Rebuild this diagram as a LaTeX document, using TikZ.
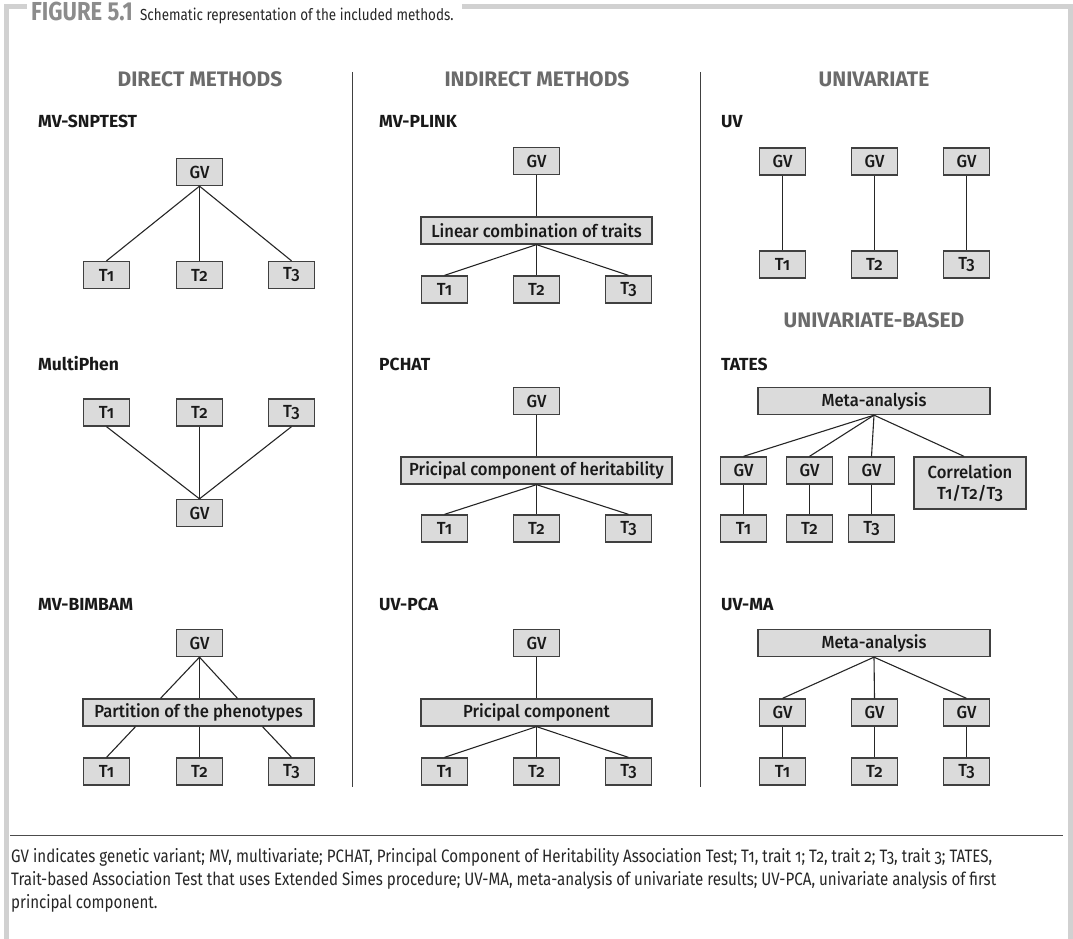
\documentclass[tikz,border=0pt]{standalone}
\usepackage{fontspec}
\setmainfont{Fira Sans}[Numbers=OldStyle]
\newfontfamily\boxfont{Fira Sans Medium}[Numbers=OldStyle,FakeStretch=0.95]
\newfontfamily\capfont{Fira Sans}[Numbers=OldStyle,FakeStretch=0.84]
\newfontfamily\figfont{Fira Sans}[FakeStretch=0.85]
\begin{document}
\begin{tikzpicture}[x=1pt,y=-1pt,
  bx/.style={draw=black!75, fill=black!14, line width=1.3pt, minimum width=46pt,
    minimum height=27pt, inner sep=0pt, text=black!90,
    font=\boxfont\fontsize{17.5}{21}\selectfont},
  ln/.style={draw=black!85, line width=1.1pt},
  hdr/.style={font=\bfseries\fontsize{21}{24}\selectfont, text=black!58, anchor=base, inner sep=0pt},
  lab/.style={font=\bfseries\fontsize{17.5}{20}\selectfont, text=black!90, anchor=base west, inner sep=0pt},
  framel/.style={draw=black!18, line width=5pt, line join=miter},
  divl/.style={draw=black!75, line width=1pt},
  capl/.style={anchor=base west, inner sep=0pt, font=\capfont\fontsize{18}{21}\selectfont, text=black!85},
]
\useasboundingbox (0,0) rectangle (1073,939);

% frame and title
\draw[framel] (6.5,939) -- (6.5,6.5) -- (27,6.5);
\node[anchor=base west, inner sep=0pt, font=\figfont\bfseries\fontsize{26}{28}\selectfont, text=black!45] (fig) at (31,21) {FIGURE 5.1};
\node[anchor=base west, inner sep=0pt, font=\capfont\fontsize{16}{20}\selectfont, text=black!85] (cap) at ([xshift=7pt]fig.base east) {Schematic representation of the included methods.};
\path (cap.east) ++(8,0) coordinate (c1);
\draw[framel] (c1 |- 0,6.5) -- (1070.5,6.5) -- (1070.5,939);

% dividers
\draw[divl] (352.5,72) -- (352.5,787);
\draw[divl] (700.5,72) -- (700.5,787);

% ===== Column 1 =====
\node[hdr] (h1) at (200,87) {DIRECT METHODS};
\node[lab] (l11) at (38,128) {MV-SNPTEST};
\node[bx] (agv) at (199.5,172) {GV};
\node[bx] (at1) at (106.5,275) {T1};
\node[bx] (at2) at (199.5,275) {T2};
\node[bx] (at3) at (291.5,275) {T3};
\draw[ln] (agv.south) -- (at1.north);
\draw[ln] (agv.south) -- (at2.north);
\draw[ln] (agv.south) -- (at3.north);

\node[lab] (l12) at (38,370) {MultiPhen};
\node[bx] (bt1) at (106.5,412.5) {T1};
\node[bx] (bt2) at (199.5,412.5) {T2};
\node[bx] (bt3) at (291.5,412.5) {T3};
\node[bx] (bgv) at (199.5,513) {GV};
\draw[ln] (bt1.south) -- (bgv.north);
\draw[ln] (bt2.south) -- (bgv.north);
\draw[ln] (bt3.south) -- (bgv.north);

\node[lab] (l13) at (38,610) {MV-BIMBAM};
\node[bx] (cgv) at (199.5,643) {GV};
\node[bx, minimum width=231pt] (cp) at (198.5,712.5) {Partition of the phenotypes};
\node[bx] (ct1) at (106.5,771.5) {T1};
\node[bx] (ct2) at (199.5,771.5) {T2};
\node[bx] (ct3) at (291.5,771.5) {T3};
\draw[ln] (cgv.south) -- ([xshift=-38pt]cp.north);
\draw[ln] (cgv.south) -- (cgv.south |- cp.north);
\draw[ln] (cgv.south) -- ([xshift=39pt]cp.north);
\draw[ln] ([xshift=-63pt]cp.south) -- (ct1.north);
\draw[ln] (ct2.north |- cp.south) -- (ct2.north);
\draw[ln] ([xshift=64pt]cp.south) -- (ct3.north);

% ===== Column 2 =====
\node[hdr] (h2) at (537,87) {INDIRECT METHODS};
\node[lab] (l21) at (379,128) {MV-PLINK};
\node[bx] (dgv) at (536.5,161) {GV};
\node[bx, minimum width=231pt] (dl) at (536.5,230.5) {Linear combination of traits};
\node[bx] (dt1) at (444.5,289.5) {T1};
\node[bx] (dt2) at (536.5,289.5) {T2};
\node[bx] (dt3) at (628.5,289.5) {T3};
\draw[ln] (dgv.south) -- (dl.north);
\draw[ln] (dl.south) -- (dt1.north);
\draw[ln] (dl.south) -- (dt2.north);
\draw[ln] (dl.south) -- (dt3.north);

\node[lab] (l22) at (379,370) {PCHAT};
\node[bx] (egv) at (536.5,401) {GV};
\node[bx, minimum width=271pt] (ep) at (536.5,470.5) {Pricipal component of heritability};
\node[bx] (et1) at (444.5,528.5) {T1};
\node[bx] (et2) at (536.5,528.5) {T2};
\node[bx] (et3) at (628.5,528.5) {T3};
\draw[ln] (egv.south) -- (ep.north);
\draw[ln] (ep.south) -- (et1.north);
\draw[ln] (ep.south) -- (et2.north);
\draw[ln] (ep.south) -- (et3.north);

\node[lab] (l23) at (379,610) {UV-PCA};
\node[bx] (fgv) at (536.5,643) {GV};
\node[bx, minimum width=231pt] (fp) at (536.5,712.5) {Pricipal component};
\node[bx] (ft1) at (444.5,771.5) {T1};
\node[bx] (ft2) at (536.5,771.5) {T2};
\node[bx] (ft3) at (628.5,771.5) {T3};
\draw[ln] (fgv.south) -- (fp.north);
\draw[ln] (fp.south) -- (ft1.north);
\draw[ln] (fp.south) -- (ft2.north);
\draw[ln] (fp.south) -- (ft3.north);

% ===== Column 3 =====
\node[hdr] (h3) at (874,87) {UNIVARIATE};
\node[lab] (l31) at (721,128) {UV};
\node[bx] (ggv1) at (782.5,161.5) {GV};
\node[bx] (ggv2) at (874.5,161.5) {GV};
\node[bx] (ggv3) at (966.5,161.5) {GV};
\node[bx] (gt1) at (782.5,264.5) {T1};
\node[bx] (gt2) at (874.5,264.5) {T2};
\node[bx] (gt3) at (966.5,264.5) {T3};
\draw[ln] (ggv1) -- (gt1);
\draw[ln] (ggv2) -- (gt2);
\draw[ln] (ggv3) -- (gt3);

\node[hdr] (h4) at (874,327) {UNIVARIATE-BASED};
\node[lab] (l32) at (721,370) {TATES};
\node[bx, minimum width=232pt] (hm) at (874,401) {Meta-analysis};
\node[bx] (hgv1) at (743.5,470.5) {GV};
\node[bx] (hgv2) at (809.5,470.5) {GV};
\node[bx] (hgv3) at (871.5,470.5) {GV};
\node[bx, minimum width=112pt, minimum height=52pt, align=center] (hc) at (970,483) {Correlation\\T1/T2/T3};
\node[bx] (ht1) at (743.5,528.5) {T1};
\node[bx] (ht2) at (809.5,528.5) {T2};
\node[bx] (ht3) at (871.5,528.5) {T3};
\draw[ln] (hm.south) -- (hgv1.north);
\draw[ln] (hm.south) -- (hgv2.north);
\draw[ln] (hm.south) -- (hgv3.north);
\draw[ln] (hm.south) -- ([xshift=-6pt]hc.north);
\draw[ln] (hgv1) -- (ht1);
\draw[ln] (hgv2) -- (ht2);
\draw[ln] (hgv3) -- (ht3);

\node[lab] (l33) at (721,610) {UV-MA};
\node[bx, minimum width=232pt] (im) at (874,643) {Meta-analysis};
\node[bx] (igv1) at (782.5,712.5) {GV};
\node[bx] (igv2) at (874.5,712.5) {GV};
\node[bx] (igv3) at (966.5,712.5) {GV};
\node[bx] (it1) at (782.5,771.5) {T1};
\node[bx] (it2) at (874.5,771.5) {T2};
\node[bx] (it3) at (966.5,771.5) {T3};
\draw[ln] (im.south) -- (igv1.north);
\draw[ln] (im.south) -- (igv2.north);
\draw[ln] (im.south) -- (igv3.north);
\draw[ln] (igv1) -- (it1);
\draw[ln] (igv2) -- (it2);
\draw[ln] (igv3) -- (it3);

% footnote
\draw[draw=black!70, line width=0.9pt] (10,835) -- (1063,835);
\node[capl] (n1) at (11,862) {GV indicates genetic variant; MV, multivariate; PCHAT, Principal Component of Heritability Association Test; T1, trait 1; T2, trait 2; T3, trait 3; TATES,};
\node[capl] (n2) at (11,885) {Trait-based Association Test that uses Extended Simes procedure; UV-MA, meta-analysis of univariate results; UV-PCA, univariate analysis of first};
\node[capl] (n3) at (11,908) {principal component.};
\end{tikzpicture}
\end{document}
